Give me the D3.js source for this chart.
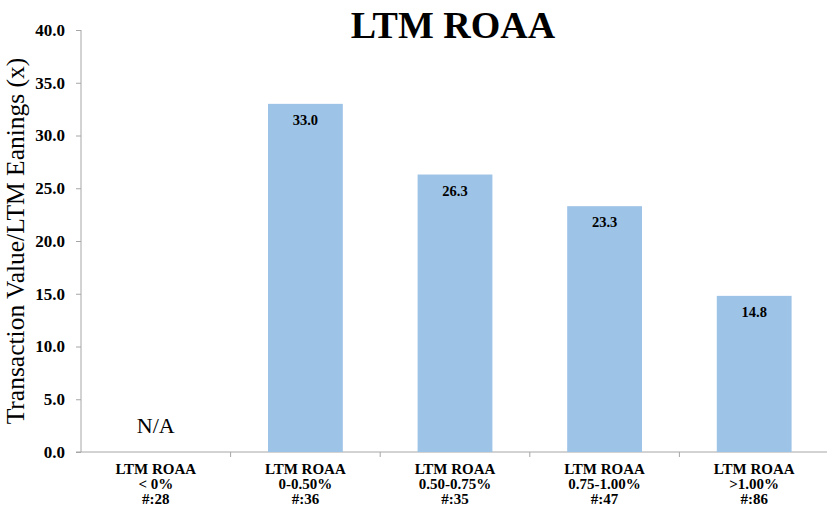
<!DOCTYPE html>
<html>
<head>
<meta charset="utf-8">
<script src="https://cdn.jsdelivr.net/npm/d3@7"></script>
<style>
  body { margin: 0; background: #fff; }
  text { font-family: "Liberation Serif", "DejaVu Serif", serif; }
</style>
</head>
<body>
<div id="chart"></div>
<script>
let categories = ["< 0%", "0-0.50%", "0.50-0.75%", "0.75-1.00%", ">1.00%"];
let counts = ["#:28", "#:36", "#:35", "#:47", "#:86"];
let values = [null, 33.0, 26.3, 23.3, 14.8];
let yTicks = [0, 5, 10, 15, 20, 25, 30, 35, 40];

let width = 827,
    height = 519,
    margin = {top: 30, right: -2, bottom: 67, left: 81};

let svg = d3.select("#chart")
    .append("svg")
    .attr("width", width)
    .attr("height", height);

let x = d3.scaleBand()
    .domain(categories)
    .range([margin.left, width - margin.right])
    .paddingInner(0.5)
    .paddingOuter(0.25);

let y = d3.scaleLinear()
    .domain([0, 40])
    .range([height - margin.bottom, margin.top]);

let step = x.step();

// title
svg.append("text")
    .attr("x", 453)
    .attr("y", 38)
    .attr("text-anchor", "middle")
    .style("font-size", "38px")
    .style("font-weight", "bold")
    .text("LTM ROAA");

// y axis
let yAxis = svg.append("g")
    .attr("transform", "translate(" + margin.left + ",0)")
    .call(d3.axisLeft(y).tickValues(yTicks).tickSize(5).tickPadding(11)
        .tickFormat(d3.format(".1f")));
yAxis.select(".domain").attr("stroke", "#a6a6a6").attr("d", "M0," + y(40) + "V" + y(0));
yAxis.selectAll(".tick line").attr("stroke", "#a6a6a6");
yAxis.selectAll(".tick text")
    .style("font-size", "17px")
    .style("font-weight", "bold")
    .attr("fill", "#000");

// x axis
let xLine = svg.append("g");
xLine.append("line")
    .attr("x1", margin.left - 5).attr("x2", width)
    .attr("y1", y(0)).attr("y2", y(0))
    .attr("stroke", "#a6a6a6");
xLine.selectAll(".sep")
    .data(categories.slice(1))
    .enter()
    .append("line")
    .attr("x1", function (d) { return x(d) - step * 0.25; })
    .attr("x2", function (d) { return x(d) - step * 0.25; })
    .attr("y1", y(0))
    .attr("y2", y(0) + 5)
    .attr("stroke", "#a6a6a6");

// bars
let bars = svg.selectAll(".bar")
    .data(categories.map(function (c, i) { return {cat: c, value: values[i]}; }).filter(function (d) { return d.value !== null; }))
    .enter();

bars.append("rect")
    .attr("x", function (d) { return x(d.cat); })
    .attr("y", function (d) { return y(d.value); })
    .attr("width", x.bandwidth())
    .attr("height", function (d) { return y(0) - y(d.value); })
    .attr("fill", "#9dc3e6");

bars.append("text")
    .attr("x", function (d) { return x(d.cat) + x.bandwidth() / 2; })
    .attr("y", function (d) { return y(d.value) + 21; })
    .attr("text-anchor", "middle")
    .style("font-size", "14.5px")
    .style("font-weight", "bold")
    .text(function (d) { return d.value.toFixed(1); });

// N/A label
categories.forEach(function (c, i) {
    if (values[i] === null) {
        svg.append("text")
            .attr("x", x(c) + x.bandwidth() / 2)
            .attr("y", y(0) - 19)
            .attr("text-anchor", "middle")
            .style("font-size", "22px")
            .text("N/A");
    }
});

// category labels
let catLabels = svg.selectAll(".cat")
    .data(categories)
    .enter()
    .append("text")
    .attr("text-anchor", "middle")
    .style("font-size", "15px")
    .style("font-weight", "bold")
    .attr("transform", function (d) {
        return "translate(" + (x(d) + x.bandwidth() / 2) + "," + (y(0) + 22) + ")";
    });
catLabels.append("tspan").attr("x", 0).attr("dy", 0).text("LTM ROAA");
catLabels.append("tspan").attr("x", 0).attr("dy", 15).text(function (d) { return d; });
catLabels.append("tspan").attr("x", 0).attr("dy", 15).text(function (d, i) { return counts[i]; });

// y axis title
svg.append("text")
    .attr("transform", "translate(24," + ((y(0) + y(40)) / 2) + ") rotate(-90)")
    .attr("text-anchor", "middle")
    .style("font-size", "25.5px")
    .text("Transaction Value/LTM Eanings (x)");
</script>
</body>
</html>
